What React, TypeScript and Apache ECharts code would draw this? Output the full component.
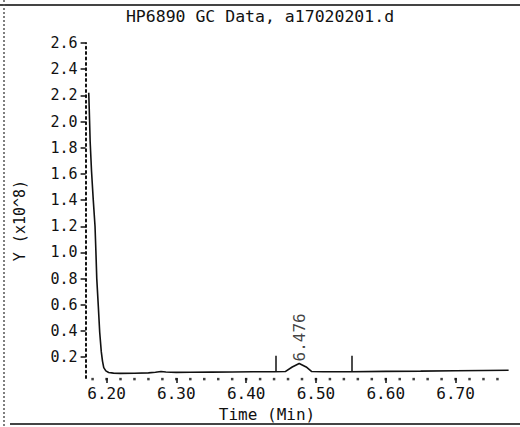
import React, { useEffect, useRef } from "react";
import * as echarts from "echarts";

const titleText = "HP6890 GC Data, a17020201.d";
const xName = "Time (Min)";
const yName = "Y (x10^8)";

const timeMin = [
  6.1745, 6.1752, 6.1765, 6.1785, 6.181, 6.1835, 6.1848, 6.186, 6.1882, 6.1902,
  6.1925, 6.1942, 6.196, 6.199, 6.203, 6.21, 6.22, 6.24, 6.26, 6.27,
  6.278, 6.285, 6.3, 6.32, 6.35, 6.38, 6.41, 6.44, 6.456, 6.466,
  6.476, 6.486, 6.494, 6.51, 6.55, 6.6, 6.65, 6.7, 6.74, 6.776,
];
const signal = [
  2.22, 2.1, 1.85, 1.62, 1.4, 1.2, 1.0, 0.8, 0.59, 0.39,
  0.24, 0.17, 0.12, 0.095, 0.083, 0.078, 0.076, 0.077, 0.08, 0.085,
  0.09, 0.087, 0.084, 0.085, 0.086, 0.087, 0.088, 0.088, 0.09, 0.125,
  0.152, 0.125, 0.09, 0.088, 0.089, 0.091, 0.093, 0.096, 0.098, 0.1,
];

const xMajorTicks = [6.2, 6.3, 6.4, 6.5, 6.6, 6.7];
const xMinorTicks = [
  6.18, 6.2, 6.22, 6.24, 6.26, 6.28, 6.3, 6.32, 6.34, 6.36, 6.38, 6.4, 6.42,
  6.44, 6.46, 6.48, 6.5, 6.52, 6.54, 6.56, 6.58, 6.6, 6.62, 6.64, 6.66, 6.68,
  6.7, 6.72, 6.74, 6.76,
];
const yMajorTicks = [0.2, 0.4, 0.6, 0.8, 1.0, 1.2, 1.4, 1.6, 1.8, 2.0, 2.2, 2.4, 2.6];
const yMin = 0.04;
const yMax = 2.6;

const peakTime = 6.476;
const peakLabelValue = 0.152;
const peakMarkerTimes = [6.443, 6.552];
const peakMarkerBase = 0.088;
const peakMarkerTop = 0.21;

const FONT = "DejaVu Sans Mono";

export default function App() {
  const ref = useRef<HTMLDivElement>(null);
  useEffect(() => {
    document.body.style.margin = "0";
    if (!ref.current) return;
    const chart = echarts.init(ref.current, null, { renderer: "svg" });
    chart.setOption({
      animation: false,
      backgroundColor: "#ffffff",
      title: {
        text: titleText,
        left: "center",
        top: 3,
        textStyle: { fontFamily: FONT, fontSize: 16.5, fontWeight: "normal", color: "#111" },
      },
      grid: { left: 85.6, right: 8.6, top: 43, bottom: 40.6 },
      xAxis: {
        type: "value",
        min: 6.17,
        max: 6.78,
        position: "bottom",
        name: xName,
        nameLocation: "middle",
        nameGap: 23,
        nameTextStyle: { fontFamily: FONT, fontSize: 16, color: "#111", padding: [0, 63, 0, 0] },
        axisLine: { show: false, onZero: false },
        splitLine: { show: false },
        axisTick: { show: true, customValues: xMajorTicks, length: 5, lineStyle: { color: "#111", width: 1.5 } },
        axisLabel: {
          customValues: xMajorTicks,
          formatter: (v: number) => v.toFixed(2),
          fontFamily: FONT,
          fontSize: 16,
          color: "#111",
          margin: 7,
        },
      },
      yAxis: {
        type: "value",
        min: yMin,
        max: yMax,
        name: yName,
        nameLocation: "middle",
        nameRotate: 90,
        nameGap: 58,
        nameTextStyle: { fontFamily: FONT, fontSize: 15, color: "#111", padding: [0, 20, 0, 0] },
        axisLine: { show: true, lineStyle: { color: "#111", width: 2, type: [2, 3.4] } },
        splitLine: { show: false },
        axisTick: { show: true, customValues: yMajorTicks, length: 5, lineStyle: { color: "#111", width: 1.5 } },
        axisLabel: {
          customValues: yMajorTicks,
          formatter: (v: number) => v.toFixed(1),
          fontFamily: FONT,
          fontSize: 15,
          color: "#111",
          margin: 8,
        },
      },
      series: [
        {
          type: "line",
          data: timeMin.map((t, i) => [t, signal[i]]),
          showSymbol: false,
          symbol: "none",
          lineStyle: { color: "#111", width: 1.6 },
          markLine: {
            silent: true,
            symbol: "none",
            label: { show: false },
            lineStyle: { color: "#111", width: 1.5, type: "solid" },
            data: peakMarkerTimes.map((t) => [
              { coord: [t, peakMarkerBase] },
              { coord: [t, peakMarkerTop] },
            ]),
          },
        },
        {
          type: "scatter",
          silent: true,
          clip: false,
          data: xMinorTicks.map((t) => [t, yMin]),
          symbol: "rect",
          symbolSize: 2.5,
          symbolOffset: [0, 1],
          itemStyle: { color: "#111" },
        },
        {
          type: "scatter",
          data: [[peakTime, peakLabelValue]],
          symbolSize: 0,
          itemStyle: { color: "#111" },
          label: {
            show: true,
            formatter: () => peakTime.toFixed(3),
            position: "top",
            rotate: 90,
            align: "left",
            verticalAlign: "middle",
            distance: 2,
            fontFamily: FONT,
            fontSize: 16,
            color: "#111",
            textBorderWidth: 0,
          },
        },
      ],
      graphic: [
        { type: "rect", z: 100, shape: { x: 0, y: 4, width: 520, height: 2 }, style: { fill: "#444" } },
        { type: "line", z: 100, shape: { x1: 4, y1: 0, x2: 4, y2: 427 }, style: { stroke: "#555", lineWidth: 1.5, lineDash: [2, 2] } },
        { type: "rect", z: 100, shape: { x: 10, y: 423, width: 510, height: 2 }, style: { fill: "#444" } },
      ],
    });
    return () => chart.dispose();
  }, []);
  return <div ref={ref} style={{ width: 520, height: 427 }} />;
}
